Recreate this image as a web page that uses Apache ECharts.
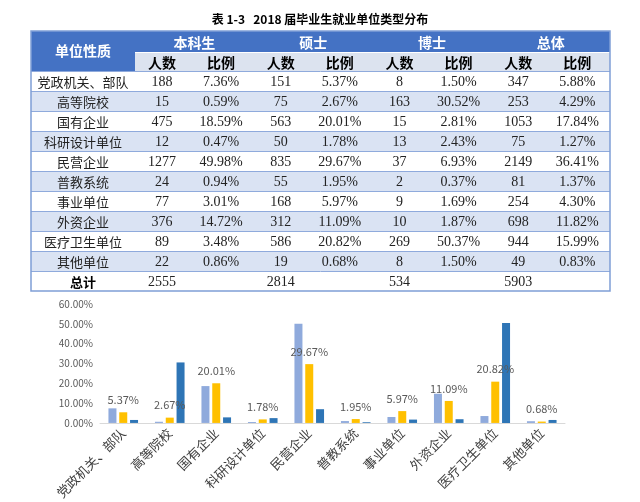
<!DOCTYPE html>
<html>
<head>
<meta charset="utf-8">
<script src="https://cdn.jsdelivr.net/npm/echarts@6/dist/echarts.min.js"></script>
<style>html,body{margin:0;padding:0;background:#fff;}#main{width:640px;height:502px;}</style>
</head>
<body>
<div id="main"></div>
<script>
const titleText = '表 1-3   2018 届毕业生就业单位类型分布';
const firstHead = '单位性质';
const groups = ['本科生', '硕士', '博士', '总体'];
const subHeads = ['人数', '比例'];
const totalLabel = '总计';
const categories = ['党政机关、部队','高等院校','国有企业','科研设计单位','民营企业','普教系统','事业单位','外资企业','医疗卫生单位','其他单位'];
const bkCount = [188, 15, 475, 12, 1277, 24, 77, 376, 89, 22];
const bkPct = [7.36, 0.59, 18.59, 0.47, 49.98, 0.94, 3.01, 14.72, 3.48, 0.86];
const ssCount = [151, 75, 563, 50, 835, 55, 168, 312, 586, 19];
const ssPct = [5.37, 2.67, 20.01, 1.78, 29.67, 1.95, 5.97, 11.09, 20.82, 0.68];
const bsCount = [8, 163, 15, 13, 37, 2, 9, 10, 269, 8];
const bsPct = [1.50, 30.52, 2.81, 2.43, 6.93, 0.37, 1.69, 1.87, 50.37, 1.50];
const ztCount = [347, 253, 1053, 75, 2149, 81, 254, 698, 944, 49];
const ztPct = [5.88, 4.29, 17.84, 1.27, 36.41, 1.37, 4.30, 11.82, 15.99, 0.83];
const totals = [2555, 2814, 534, 5903];
const yTicks = [0, 10, 20, 30, 40, 50, 60];

const counts = [bkCount, ssCount, bsCount, ztCount];
const pcts = [bkPct, ssPct, bsPct, ztPct];

// ---- table layout (drawn with graphic elements) ----
const L = 31, R = 610, TOP = 31, H1 = 21, H2 = 19, RH = 20, C0 = 104;
const gStart = L + C0;
const gW = (R - gStart) / groups.length;
const cntOff = 27, pctOff = 86;
const sansCJK = "'Noto Sans CJK SC', sans-serif";
const serifNum = "'Liberation Serif', 'Noto Sans CJK SC', serif";
const headBlue = '#4472c4', subBg = '#dce3ef', band = '#dae3f3', lineC = '#8faadc';
const els = [];
function txt(x, y, s, opt) {
  els.push({type: 'text', x: x, y: y, silent: true, z: 10, style: Object.assign({
    text: s, align: 'center', verticalAlign: 'middle', textAlign: 'center', textVerticalAlign: 'middle',
    fontSize: 13, fontFamily: sansCJK, fill: '#000'}, opt || {})});
}
function rect(x, y, w, h, fill) {
  els.push({type: 'rect', silent: true, z: 1, shape: {x: x, y: y, width: w, height: h}, style: {fill: fill}});
}
function hline(y, c, lw) {
  els.push({type: 'line', silent: true, z: 5, shape: {x1: L, y1: y, x2: R, y2: y}, style: {stroke: c, lineWidth: lw || 1}});
}
rect(L, TOP, R - L, H1, headBlue);
rect(L, TOP + H1, C0, H2, headBlue);
rect(gStart, TOP + H1 + 1, R - gStart, H2 - 1, subBg);
const dataTop = TOP + H1 + H2;
for (let i = 0; i <= categories.length; i++) {
  rect(L, dataTop + i * RH, R - L, RH, (i % 2 === 1 && i < categories.length) ? band : '#fff');
}
for (let i = 0; i <= categories.length; i++) hline(dataTop + i * RH + 0.5, lineC, 1);
els.push({type: 'rect', silent: true, z: 6, shape: {x: L, y: TOP, width: R - L, height: dataTop + (categories.length + 1) * RH - TOP},
  style: {fill: 'none', stroke: '#7f9ed6', lineWidth: 1.5}});
txt(L + C0 / 2, TOP + (H1 + H2) / 2, firstHead, {fill: '#fff', fontWeight: 'bold', fontSize: 14});
groups.forEach((g, k) => {
  const gx = gStart + k * gW;
  txt(gx + gW / 2, TOP + H1 / 2 + 1, g, {fill: '#fff', fontWeight: 'bold', fontSize: 14});
  txt(gx + cntOff, TOP + H1 + H2 / 2 + 1, subHeads[0], {fontWeight: 'bold', fontSize: 14});
  txt(gx + pctOff, TOP + H1 + H2 / 2 + 1, subHeads[1], {fontWeight: 'bold', fontSize: 14});
  categories.forEach((c, i) => {
    const cy = dataTop + i * RH + RH / 2 + 1;
    txt(gx + cntOff, cy, String(counts[k][i]), {fontFamily: serifNum, fontSize: 14, fill: '#222'});
    txt(gx + pctOff, cy, pcts[k][i].toFixed(2) + '%', {fontFamily: serifNum, fontSize: 14, fill: '#222'});
  });
  txt(gx + cntOff, dataTop + categories.length * RH + RH / 2 + 1, String(totals[k]), {fontFamily: serifNum, fontSize: 14, fill: '#222'});
});
categories.forEach((c, i) => {
  txt(L + C0 / 2, dataTop + i * RH + RH / 2 + 1, c, {fontSize: 13, fill: '#222'});
});
txt(L + C0 / 2, dataTop + categories.length * RH + RH / 2 + 1, totalLabel, {fontWeight: 'bold', fontSize: 13});

const chart = echarts.init(document.getElementById('main'));
chart.setOption({
  animation: false,
  backgroundColor: '#fff',
  title: {text: titleText, left: 'center', top: 8,
    textStyle: {fontSize: 12, fontWeight: 'bold', color: '#000', fontFamily: sansCJK}},
  graphic: els,
  grid: {left: 100, right: 75, top: 304, bottom: 74, containLabel: false},
  xAxis: {type: 'category', data: categories,
    axisTick: {show: false},
    axisLine: {lineStyle: {color: '#d9d9d9', width: 1}},
    axisLabel: {interval: 0, rotate: 45, fontSize: 13, color: '#404040', margin: 8, fontFamily: sansCJK}},
  yAxis: {type: 'value', min: yTicks[0], max: yTicks[yTicks.length - 1], interval: yTicks[1] - yTicks[0],
    axisLine: {show: false}, axisTick: {show: false}, splitLine: {show: false},
    axisLabel: {formatter: v => v.toFixed(2) + '%', fontSize: 10, color: '#595959', margin: 7, fontFamily: sansCJK}},
  series: [
    {name: groups[0], type: 'bar', data: bkPct, barWidth: 8, barGap: '35%', itemStyle: {color: '#8faadc'}},
    {name: groups[1], type: 'bar', data: ssPct, barWidth: 8, barGap: '35%', itemStyle: {color: '#ffc000'},
      label: {show: true, position: 'top', distance: 7, formatter: p => p.value.toFixed(2) + '%',
        fontSize: 11, color: '#595959', fontFamily: sansCJK}},
    {name: groups[2], type: 'bar', data: bsPct, barWidth: 8, barGap: '35%', itemStyle: {color: '#2e75b6'}}
  ]
});
</script>
</body>
</html>
